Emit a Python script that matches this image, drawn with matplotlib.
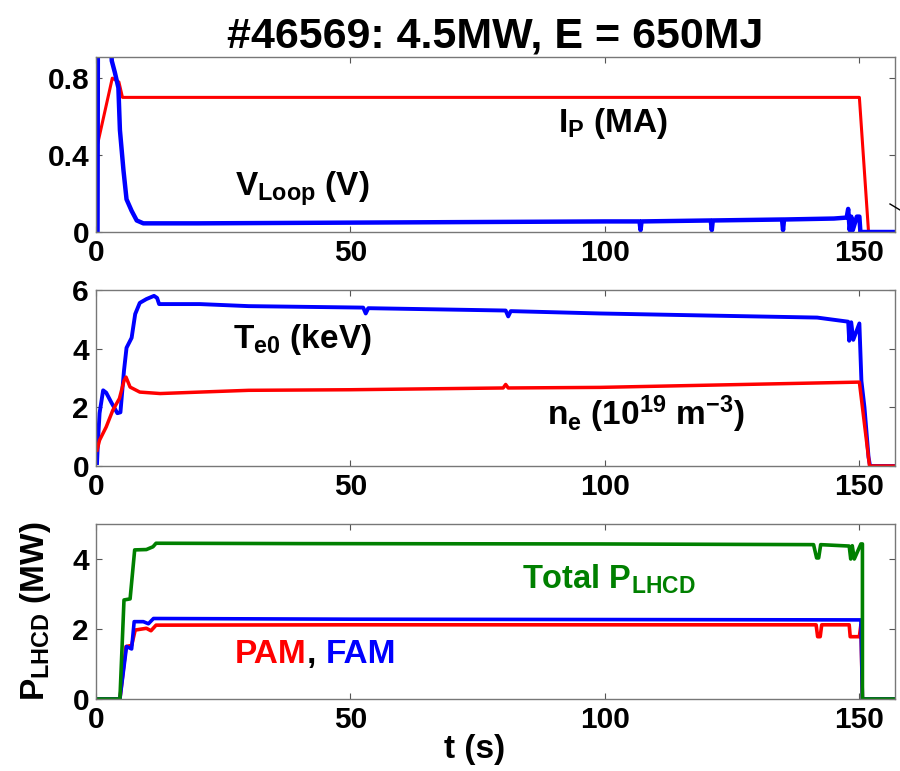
import matplotlib
matplotlib.use("Agg")
import matplotlib.pyplot as plt
from matplotlib.lines import Line2D

plt.rcParams['font.family'] = ['Liberation Sans', 'DejaVu Sans']
plt.rcParams['font.weight'] = 'bold'
plt.rcParams['axes.labelweight'] = 'bold'
plt.rcParams['mathtext.fontset'] = 'custom'
plt.rcParams['mathtext.rm'] = 'Liberation Sans:bold'
plt.rcParams['mathtext.it'] = 'Liberation Sans:bold'
plt.rcParams['mathtext.bf'] = 'Liberation Sans:bold'
plt.rcParams['mathtext.default'] = 'rm'

# -------------------------------
# DATA
# -------------------------------
# panel 1: plasma current (MA) and loop voltage (V)
ip_t = [0, 3.2, 4.5, 5.2, 150.0, 151.8, 157]
ip_v = [0.42, 0.80, 0.78, 0.70, 0.70, 0.0, 0.0]

vl_t = [0.3, 0.4, 2.9, 3.1, 3.7, 4.4, 4.7, 5.4, 6.0, 7.0, 8.0, 9.3, 20, 60,
        100, 106.8, 107, 107.2, 120.8, 121, 121.2, 134.8, 135, 135.2,
        145, 147.5, 147.8, 148.1, 148.4, 148.7, 149.5, 150.0, 150.2, 157]
vl_v = [0, 1.5, 1.0, 0.89, 0.83, 0.75, 0.53, 0.32, 0.17, 0.11, 0.06, 0.045, 0.045, 0.05,
        0.055, 0.055, 0.01, 0.055, 0.06, 0.01, 0.06, 0.065, 0.01, 0.065,
        0.07, 0.075, 0.12, 0.01, 0.08, 0.01, 0.08, 0.08, 0.0, 0.0]

# panel 2: central electron temperature (keV) and density (1e19 m^-3)
te_t = [0.2, 0.4, 0.7, 1.4, 2.0, 3.0, 4.2, 4.8, 5.5, 6.0, 7.0, 7.7, 8.6, 9.9,
        11.4, 12.0, 12.4, 20.4, 30, 52.5, 53, 53.5, 80.5, 81, 81.5, 99, 120,
        141.7, 147.8, 148, 148.4, 148.8, 150.0, 150.4, 151.0, 151.8, 152.1, 157]
te_v = [0.1, 0.88, 1.8, 2.58, 2.5, 2.17, 1.8, 1.83, 3.25, 4.03, 4.37, 5.18, 5.56, 5.69,
        5.8, 5.73, 5.52, 5.52, 5.45, 5.4, 5.2, 5.38, 5.3, 5.1, 5.28, 5.2, 5.13,
        5.06, 4.92, 4.27, 4.9, 4.3, 4.86, 2.9, 2.0, 0.3, 0.0, 0.0]

ne_t = [0.2, 0.7, 2.0, 3.3, 4.6, 5.5, 5.9, 6.7, 8.6, 12.6, 20.4, 30, 50,
        80, 80.5, 81, 99, 150.0, 152.0, 157]
ne_v = [0.54, 0.88, 1.33, 1.9, 2.3, 2.9, 3.03, 2.69, 2.52, 2.47, 2.52, 2.58, 2.6,
        2.66, 2.78, 2.66, 2.68, 2.86, 0.0, 0.0]

# panel 3: LHCD power (MW)
tot_t = [0, 4.7, 5.5, 6.7, 7.6, 9.9, 11.2, 11.8, 40, 99, 141, 141.6, 142, 142.4,
         148, 148.3, 148.6, 149, 150.3, 150.6, 150.6, 157]
tot_v = [0, 0, 2.83, 2.86, 4.26, 4.27, 4.35, 4.45, 4.44, 4.43, 4.41, 4.03, 4.03, 4.41,
         4.37, 4.0, 4.38, 4.0, 4.43, 4.43, 0, 0]

fam_t = [0, 4.7, 6.0, 7.0, 7.5, 9.3, 10.3, 11.3, 50, 100, 150.3, 150.6, 157]
fam_v = [0, 0, 1.5, 1.43, 2.21, 2.21, 2.15, 2.3, 2.28, 2.27, 2.26, 0, 0]

pam_t = [0, 4.7, 5.9, 7.0, 7.7, 9.9, 10.8, 11.8, 50, 100, 141.5, 141.8, 142.3, 142.6,
         148, 148.2, 150.0, 150.3, 150.6, 157]
pam_v = [0, 0, 1.5, 1.53, 1.97, 2.02, 1.95, 2.11, 2.12, 2.12, 2.12, 1.78, 1.78, 2.12,
         2.12, 1.78, 1.78, 2.12, 0, 0]

x_ticks = [0, 50, 100, 150]

RED = '#ff0000'
BLUE = '#0000ff'
GREEN = '#008000'

# -------------------------------
# FIGURE
# -------------------------------
fig = plt.figure(figsize=(9, 7.71), dpi=100)
W, H = 900, 771
left, right = 96, 895
boxes = [(57, 232), (290, 466), (524, 699)]
axs = [fig.add_axes([left / W, 1 - b / H, (right - left) / W, (b - t) / H]) for t, b in boxes]

for ax in axs:
    ax.set_xlim(0, 157)
    ax.set_xticks(x_ticks)
    ax.tick_params(direction='in', top=True, right=True, length=4, width=0.8,
                   labelsize=21.5, pad=5, color='#555555')
    for s in ax.spines.values():
        s.set_color('#777777')
        s.set_linewidth(1.0)

# panel 1
ax = axs[0]
ax.plot(ip_t, ip_v, color=RED, lw=2.2)
ax.plot(vl_t, vl_v, color=BLUE, lw=3.2)
ax.set_ylim(0, 0.91)
ax.set_yticks([0, 0.4, 0.8])
ax.set_yticklabels(['0', '0.4', '0.8'])
ax.text(90.8, 0.52, r'$I_P$ (MA)', fontsize=24, va='baseline')
ax.text(27.3, 0.187, r'$V_{Loop}$ (V)', fontsize=24, va='baseline')

# panel 2
ax = axs[1]
ax.plot(te_t, te_v, color=BLUE, lw=2.8)
ax.plot(ne_t, ne_v, color=RED, lw=2.5)
ax.set_ylim(0, 6)
ax.set_yticks([0, 2, 4, 6])
ax.text(27, 4.03, r'$T_{e0}$ (keV)', fontsize=24, va='baseline')
ax.text(88.6, 1.39, r'$n_e$ (10$^{19}$ m$^{-3}$)', fontsize=24, va='baseline')

# panel 3
ax = axs[2]
ax.plot(pam_t, pam_v, color=RED, lw=2.6)
ax.plot(fam_t, fam_v, color=BLUE, lw=2.6)
ax.plot(tot_t, tot_v, color=GREEN, lw=2.6)
ax.set_ylim(0, 5)
ax.set_yticks([0, 2, 4])
ax.text(83.7, 3.14, r'Total P$_{LHCD}$', fontsize=23.5, va='baseline', color=GREEN)
t1 = ax.text(27.3, 1.03, 'PAM', fontsize=24, va='baseline', color=RED)
t2 = ax.annotate(', ', xy=(1, 0), xycoords=t1, va='bottom', ha='left',
                 fontsize=24, color='black')
ax.annotate('FAM', xy=(1, 0), xycoords=t2, va='bottom', ha='left',
            fontsize=24, color=BLUE)
ax.set_ylabel(r'P$_{LHCD}$ (MW)', fontsize=24, labelpad=14)

for ax in axs:
    for lab in ax.get_xticklabels() + ax.get_yticklabels():
        lab.set_fontweight('bold')

fig.text(475 / W, 1 - 758 / H, 't (s)', fontsize=24, ha='center', va='baseline')
fig.text(495 / W, 1 - 48 / H, '#46569: 4.5MW, E = 650MJ', fontsize=31,
         ha='center', va='baseline')

# small stray mark at the right edge of the top panel
fig.add_artist(Line2D([890 / W, 900 / W], [1 - 204 / H, 1 - 210 / H],
                      color='black', lw=1.0))

fig.savefig('out.png', dpi=100)
